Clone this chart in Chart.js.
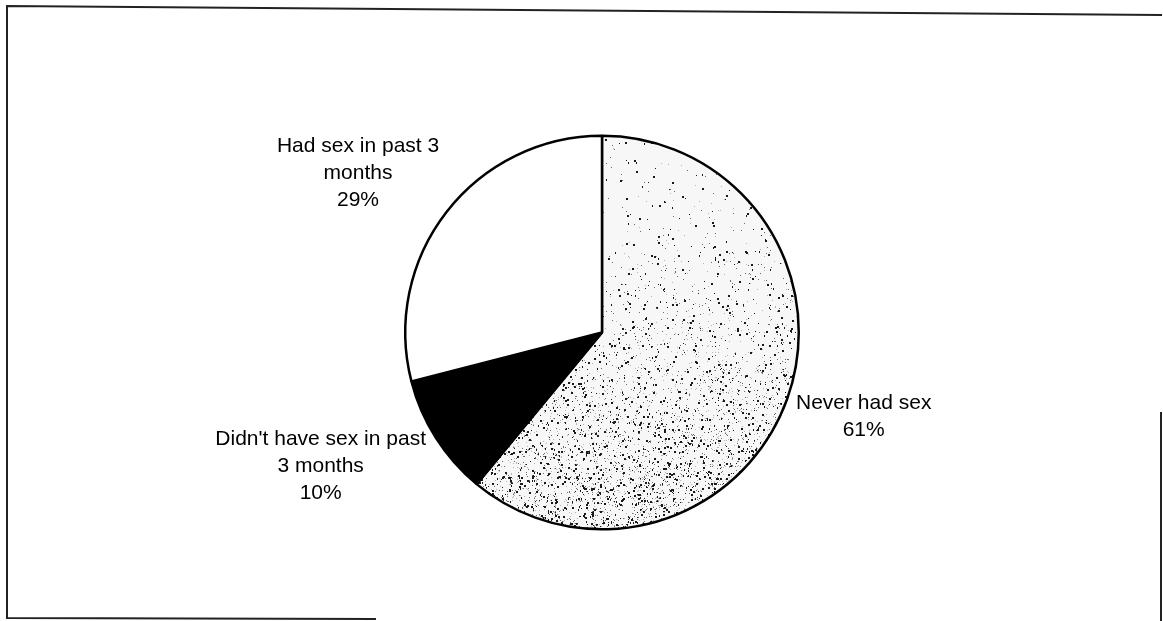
<!DOCTYPE html>
<html>
<head>
<meta charset="utf-8">
<script src="https://cdn.jsdelivr.net/npm/chart.js@4/dist/chart.umd.min.js"></script>
<style>
  html, body { margin: 0; padding: 0; background: #fff; }
  #wrap { position: relative; width: 1163px; height: 621px; }
</style>
</head>
<body>
<div id="wrap"><canvas id="pie" width="1163" height="621"></canvas></div>
<script>
// Data
const categories = [
    ['Never had sex', '61%'],
    ["Didn't have sex in past", '3 months', '10%'],
    ['Had sex in past 3', 'months', '29%']
];
const values = [61, 10, 29];

// Label anchors, in units of the pie radius from the pie centre
const labelOffsets = [[1.33, 0.42], [-1.43, 0.67], [-1.24, -0.82]];

// Stippled grey texture for the big slice (gets denser towards the bottom)
function makeStipple(w, h) {
    const c = document.createElement('canvas');
    c.width = w; c.height = h;
    const g = c.getContext('2d');
    g.fillStyle = '#f7f7f7';
    g.fillRect(0, 0, w, h);
    let seed = 987654321;
    const rnd = () => {
        seed = (seed + 0x6D2B79F5) | 0;
        let t = Math.imul(seed ^ (seed >>> 15), 1 | seed);
        t = (t + Math.imul(t ^ (t >>> 7), 61 | t)) ^ t;
        return ((t ^ (t >>> 14)) >>> 0) / 4294967296;
    };
    for (let i = 0; i < 260000; i++) {
        const x = rnd() * w, y = rnd() * h;
        const t = Math.min(Math.max((y - 140) / 390, 0), 1);
        if (rnd() > 0.02 + 0.33 * t * t) continue;
        const s = rnd();
        g.fillStyle = s < 0.4 ? '#1a1a1a' : (s < 0.7 ? '#6a6a6a' : '#b4b4b4');
        g.fillRect(Math.floor(x), Math.floor(y), s < 0.15 ? 2 : 1, s < 0.25 ? 2 : 1);
    }
    return g.createPattern(c, 'repeat');
}

const ctx = document.getElementById('pie').getContext('2d');
const stipple = makeStipple(1163, 621);

// Scanned-page frame around the figure
const framePlugin = {
    id: 'frame',
    beforeDraw(chart) {
        const g = chart.ctx;
        g.save();
        g.strokeStyle = '#222';
        g.lineWidth = 2;
        g.beginPath();
        g.moveTo(7, 619); g.lineTo(7, 6);
        g.lineTo(1162, 15);
        g.moveTo(1161, 412); g.lineTo(1161, 621);
        g.moveTo(7, 618); g.lineTo(376, 619);
        g.stroke();
        g.restore();
    }
};

// Multi-line slice labels placed outside the pie
const labelPlugin = {
    id: 'sliceLabels',
    afterDraw(chart) {
        const g = chart.ctx;
        const arc = chart.getDatasetMeta(0).data[0];
        const cx = arc.x, cy = arc.y, r = arc.outerRadius;
        const lh = 27;
        g.save();
        g.fillStyle = '#000';
        g.font = '21px "Liberation Sans", Arial, sans-serif';
        g.textAlign = 'center';
        g.textBaseline = 'alphabetic';
        categories.forEach((lines, i) => {
            const x = cx + labelOffsets[i][0] * r;
            const y = cy + labelOffsets[i][1] * r;
            lines.forEach((t, j) => {
                g.fillText(t, x, y + (j - (lines.length - 1) / 2) * lh + 7.5);
            });
        });
        g.restore();
    }
};

new Chart(ctx, {
    type: 'pie',
    data: {
        labels: categories.map(l => l.join(' ')),
        datasets: [{
            data: values,
            backgroundColor: [stipple, '#000', '#fff'],
            borderColor: '#000',
            borderWidth: 2.5
        }]
    },
    options: {
        responsive: false,
        animation: false,
        layout: { padding: { left: 404, right: 363, top: 134, bottom: 90 } },
        plugins: {
            legend: { display: false },
            tooltip: { enabled: false }
        }
    },
    plugins: [framePlugin, labelPlugin]
});
</script>
</body>
</html>
